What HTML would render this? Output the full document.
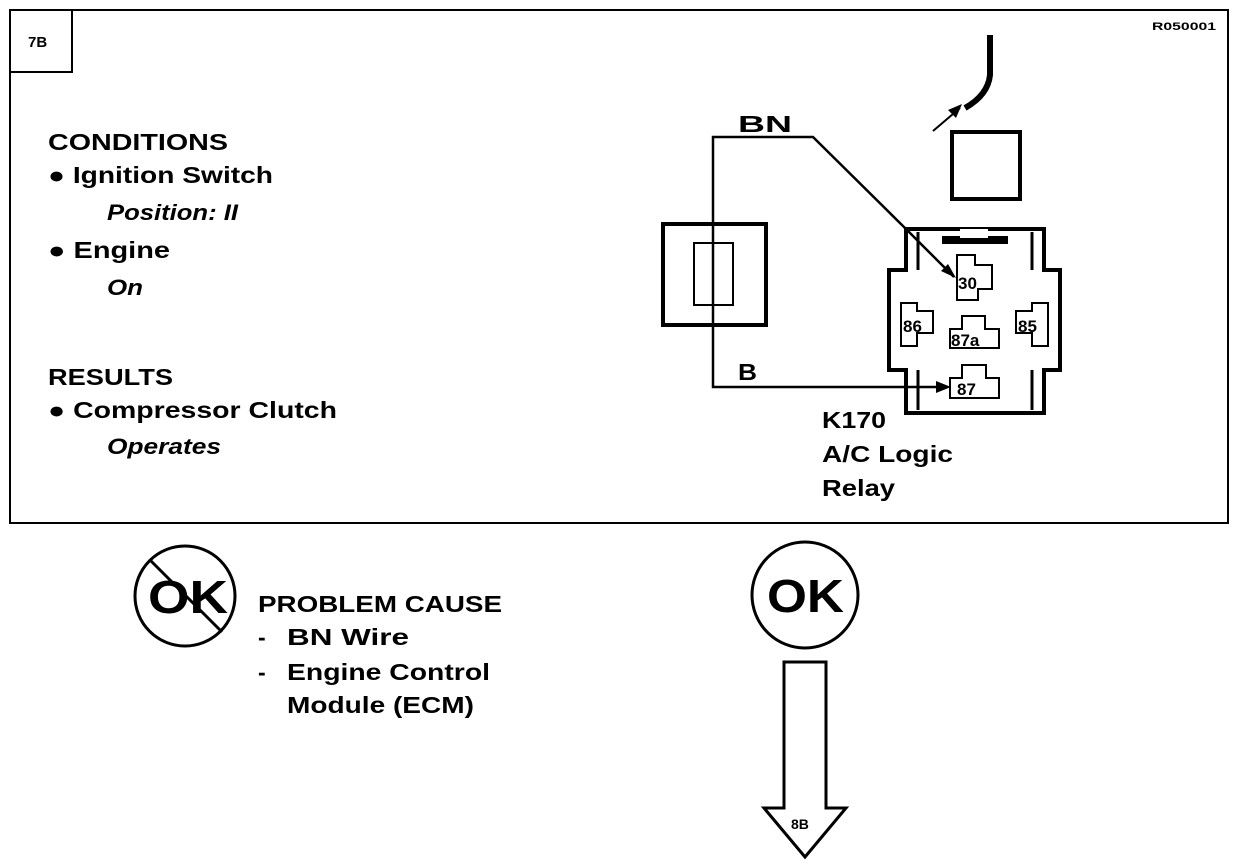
<!DOCTYPE html>
<html><head><meta charset="utf-8"><style>
html,body{margin:0;padding:0;background:#fff;}
svg{display:block;}
text{font-family:"Liberation Sans",Arial,sans-serif;font-weight:bold;fill:#000;}
</style></head><body>
<svg width="1248" height="866" viewBox="0 0 1248 866" xmlns="http://www.w3.org/2000/svg">
<rect x="10" y="10" width="1218" height="513" fill="none" stroke="#000" stroke-width="2"/>
<rect x="10" y="10" width="62" height="62" fill="none" stroke="#000" stroke-width="2"/>
<text x="28" y="47" font-size="15">7B</text>
<text x="1152" y="30" font-size="11" font-weight="normal" textLength="64" lengthAdjust="spacingAndGlyphs">R050001</text>

<g lengthAdjust="spacingAndGlyphs">
<text x="48" y="150" font-size="23" textLength="180" lengthAdjust="spacingAndGlyphs">CONDITIONS</text>
<text x="48" y="183" font-size="23" textLength="225" lengthAdjust="spacingAndGlyphs">● Ignition Switch</text>
<text x="107" y="220" font-size="22" font-style="italic" font-weight="normal" textLength="131" lengthAdjust="spacingAndGlyphs">Position: II</text>
<text x="48" y="258" font-size="23" textLength="122" lengthAdjust="spacingAndGlyphs">● Engine</text>
<text x="107" y="295" font-size="22" font-style="italic" font-weight="normal" textLength="36" lengthAdjust="spacingAndGlyphs">On</text>
<text x="48" y="385" font-size="23" textLength="125" lengthAdjust="spacingAndGlyphs">RESULTS</text>
<text x="48" y="418" font-size="23" textLength="289" lengthAdjust="spacingAndGlyphs">● Compressor Clutch</text>
<text x="107" y="454" font-size="22" font-style="italic" font-weight="normal" textLength="114" lengthAdjust="spacingAndGlyphs">Operates</text>
</g>

<g fill="none" stroke="#000" stroke-width="2.5">
<polyline points="954,277 906,229 813,137 713,137 713,387 940,387"/>
</g>
<polygon points="956,278 941,271 948,264" fill="#000"/>
<polygon points="951,387 936,381 936,393" fill="#000"/>
<text x="738" y="132" font-size="23" textLength="54" lengthAdjust="spacingAndGlyphs">BN</text>
<text x="738" y="380" font-size="23" textLength="19" lengthAdjust="spacingAndGlyphs">B</text>

<rect x="663" y="224" width="103" height="101" fill="none" stroke="#000" stroke-width="4"/>
<rect x="694" y="243" width="39" height="62" fill="none" stroke="#000" stroke-width="2"/>

<rect x="952" y="132" width="68" height="67" fill="none" stroke="#000" stroke-width="4"/>
<path d="M990 35 L990 75 Q988 95 965 108" fill="none" stroke="#000" stroke-width="6"/>
<line x1="933" y1="131" x2="960" y2="108" stroke="#000" stroke-width="2"/>
<polygon points="962,104 948,110 956,118" fill="#000"/>

<g fill="none" stroke="#000">
<path d="M906 229 L1044 229 L1044 270 L1060 270 L1060 370 L1044 370 L1044 413 L906 413 L906 370 L889 370 L889 270 L906 270 Z" stroke-width="4"/>
<line x1="918" y1="232" x2="918" y2="270" stroke-width="3"/>
<line x1="1032" y1="232" x2="1032" y2="270" stroke-width="3"/>
<line x1="918" y1="370" x2="918" y2="410" stroke-width="3"/>
<line x1="1032" y1="370" x2="1032" y2="410" stroke-width="3"/>
<g stroke-width="2">
<path d="M957 255 L975 255 L975 265 L992 265 L992 289 L978 289 L978 300 L957 300 Z"/>
<path d="M901 303 L917 303 L917 311 L933 311 L933 333 L917 333 L917 346 L901 346 Z"/>
<path d="M1048 303 L1032 303 L1032 311 L1016 311 L1016 333 L1032 333 L1032 346 L1048 346 Z"/>
<path d="M962 316 L985 316 L985 329 L999 329 L999 348 L950 348 L950 329 L962 329 Z"/>
<path d="M962 365 L986 365 L986 378 L999 378 L999 398 L950 398 L950 378 L962 378 Z"/>
</g>
</g>
<rect x="942" y="236" width="66" height="8" fill="#000"/>
<rect x="960" y="229" width="28" height="9" fill="#fff"/>
<text x="958" y="289" font-size="17" font-weight="normal">30</text>
<text x="903" y="332" font-size="17" font-weight="normal">86</text>
<text x="1018" y="332" font-size="17" font-weight="normal">85</text>
<text x="951" y="346" font-size="17" font-weight="normal">87a</text>
<text x="957" y="395" font-size="17" font-weight="normal">87</text>
<text x="822" y="428" font-size="23" textLength="64" lengthAdjust="spacingAndGlyphs">K170</text>
<text x="822" y="462" font-size="23" textLength="131" lengthAdjust="spacingAndGlyphs">A/C Logic</text>
<text x="822" y="496" font-size="23" textLength="73" lengthAdjust="spacingAndGlyphs">Relay</text>

<circle cx="185" cy="596" r="50" fill="none" stroke="#000" stroke-width="3"/>
<text x="148" y="613" font-size="46" textLength="80" lengthAdjust="spacingAndGlyphs">OK</text>
<line x1="150" y1="560" x2="222" y2="632" stroke="#000" stroke-width="3"/>
<text x="258" y="612" font-size="23" textLength="244" lengthAdjust="spacingAndGlyphs">PROBLEM CAUSE</text>
<text x="258" y="645" font-size="23">-</text>
<text x="287" y="645" font-size="23" textLength="122" lengthAdjust="spacingAndGlyphs">BN  Wire</text>
<text x="258" y="680" font-size="23">-</text>
<text x="287" y="680" font-size="23" textLength="203" lengthAdjust="spacingAndGlyphs">Engine Control</text>
<text x="287" y="713" font-size="23" textLength="187" lengthAdjust="spacingAndGlyphs">Module (ECM)</text>

<circle cx="805" cy="595" r="53" fill="none" stroke="#000" stroke-width="3"/>
<text x="767" y="612" font-size="46" textLength="77" lengthAdjust="spacingAndGlyphs">OK</text>
<path d="M784 662 L826 662 L826 808 L846 808 L805 857 L764 808 L784 808 Z" fill="none" stroke="#000" stroke-width="3"/>
<text x="791" y="829" font-size="14">8B</text>
</svg>
</body></html>
